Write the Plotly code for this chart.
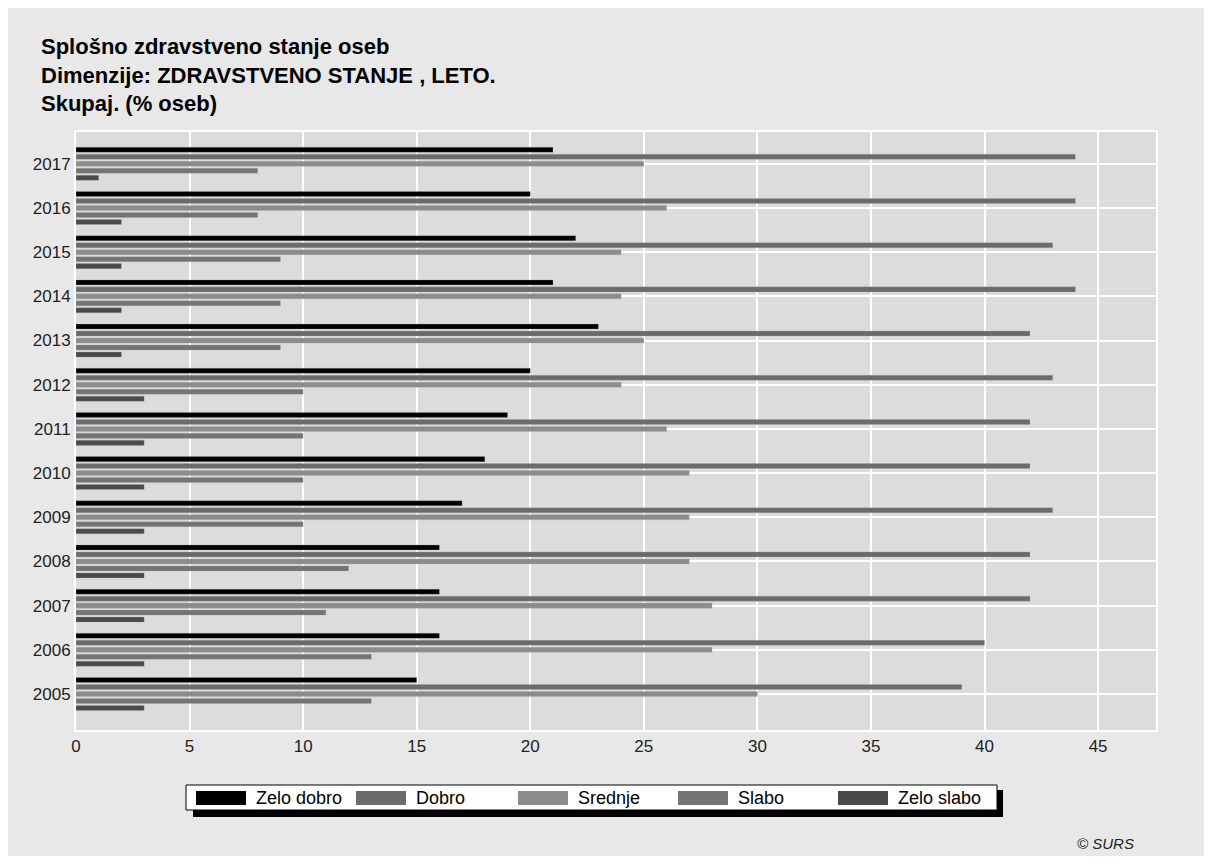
"""Splošno zdravstveno stanje oseb: grouped horizontal bars by year."""

import plotly.graph_objects as go

years = ["2005", "2006", "2007", "2008", "2009", "2010", "2011",
         "2012", "2013", "2014", "2015", "2016", "2017"]
zelo_dobro = [15, 16, 16, 16, 17, 18, 19, 20, 23, 21, 22, 20, 21]
dobro = [39, 40, 42, 42, 43, 42, 42, 43, 42, 44, 43, 44, 44]
srednje = [30, 28, 28, 27, 27, 27, 26, 24, 25, 24, 24, 26, 25]
slabo = [13, 13, 11, 12, 10, 10, 10, 10, 9, 9, 9, 8, 8]
zelo_slabo = [3, 3, 3, 3, 3, 3, 3, 3, 2, 2, 2, 2, 1]

series_names = ["Zelo dobro", "Dobro", "Srednje", "Slabo", "Zelo slabo"]
series_values = [zelo_dobro, dobro, srednje, slabo, zelo_slabo]
colors = ["#000000", "#6b6b6b", "#8c8c8c", "#747474", "#4a4a4a"]
x_ticks = [0, 5, 10, 15, 20, 25, 30, 35, 40, 45]

# page pixels of the plot area (body margin of 8px included)
PL, PR, PT, PB = 76, 1156, 132, 730


def px(x):
    return (x - PL) / (PR - PL)


def py(y):
    return (PB - y) / (PB - PT)


fig = go.Figure()

# plotly stacks the first trace at the bottom of a group, so add in reverse
for name, vals, col in reversed(list(zip(series_names, series_values, colors))):
    fig.add_trace(go.Bar(
        y=years, x=vals, name=name, orientation="h",
        marker={"color": col, "line": {"color": "rgba(170,170,170,0.6)", "width": 0.5}},
        showlegend=False,
    ))

shapes = [
    # legend shadow + box
    dict(type="rect", xref="paper", yref="paper", x0=px(193), x1=px(1003), y0=py(817), y1=py(790),
         fillcolor="#000000", line={"width": 0}, layer="above"),
    dict(type="rect", xref="paper", yref="paper", x0=px(186), x1=px(997), y0=py(810), y1=py(785),
         fillcolor="#ffffff", line={"color": "#000000", "width": 1}, layer="above"),
]
annotations = []
sw_left = [196, 356, 518, 678, 838]
for name, col, left in zip(series_names, colors, sw_left):
    shapes.append(dict(type="rect", xref="paper", yref="paper", x0=px(left), x1=px(left + 50),
                       y0=py(805), y1=py(791), fillcolor=col, line={"width": 0}, layer="above"))
    annotations.append(dict(text=name, xref="paper", yref="paper", x=px(left + 58), y=py(798),
                            xanchor="left", yanchor="middle", showarrow=False,
                            font={"family": "Liberation Sans Narrow, Liberation Sans, Arial", "size": 18,
                                  "color": "#000000"}))

annotations.append(dict(
    text="<b>Splošno zdravstveno stanje oseb<br>Dimenzije: ZDRAVSTVENO STANJE , LETO.<br>Skupaj. (% oseb)</b>",
    xref="paper", yref="paper", x=px(39), y=py(75), xanchor="left", yanchor="middle",
    align="left", showarrow=False,
    font={"family": "Liberation Sans, Arial", "size": 22, "color": "#000000"},
))
annotations.append(dict(
    text="<i>© SURS</i>", xref="paper", yref="paper", x=px(1136), y=py(843),
    xanchor="right", yanchor="middle", showarrow=False,
    font={"family": "Liberation Sans, Arial", "size": 15, "color": "#222222"},
))

fig.update_layout(
    width=1196, height=848,
    margin={"l": PL - 8, "r": 1204 - PR, "t": PT - 8, "b": 856 - PB},
    paper_bgcolor="#e8e8e8",
    plot_bgcolor="#dcdcdc",
    barmode="group",
    bargap=0.21,
    bargroupgap=0.28,
    font={"family": "Liberation Sans, Arial", "size": 16, "color": "#222222"},
    xaxis={
        "range": [0, 47.55], "tickvals": x_ticks, "showgrid": True, "gridcolor": "#ffffff",
        "gridwidth": 2, "zeroline": False, "showline": True, "linecolor": "#ffffff",
        "linewidth": 2, "mirror": True, "ticks": "", "tickfont": {"size": 17},
    },
    yaxis={
        "type": "category", "categoryorder": "array", "categoryarray": years,
        "range": [-0.815, 12.72], "showgrid": True, "gridcolor": "#ffffff", "gridwidth": 2,
        "showline": True, "linecolor": "#ffffff", "linewidth": 2, "mirror": True,
        "ticks": "", "tickfont": {"size": 17},
    },
    shapes=shapes,
    annotations=annotations,
)

fig.write_html("out.html")
